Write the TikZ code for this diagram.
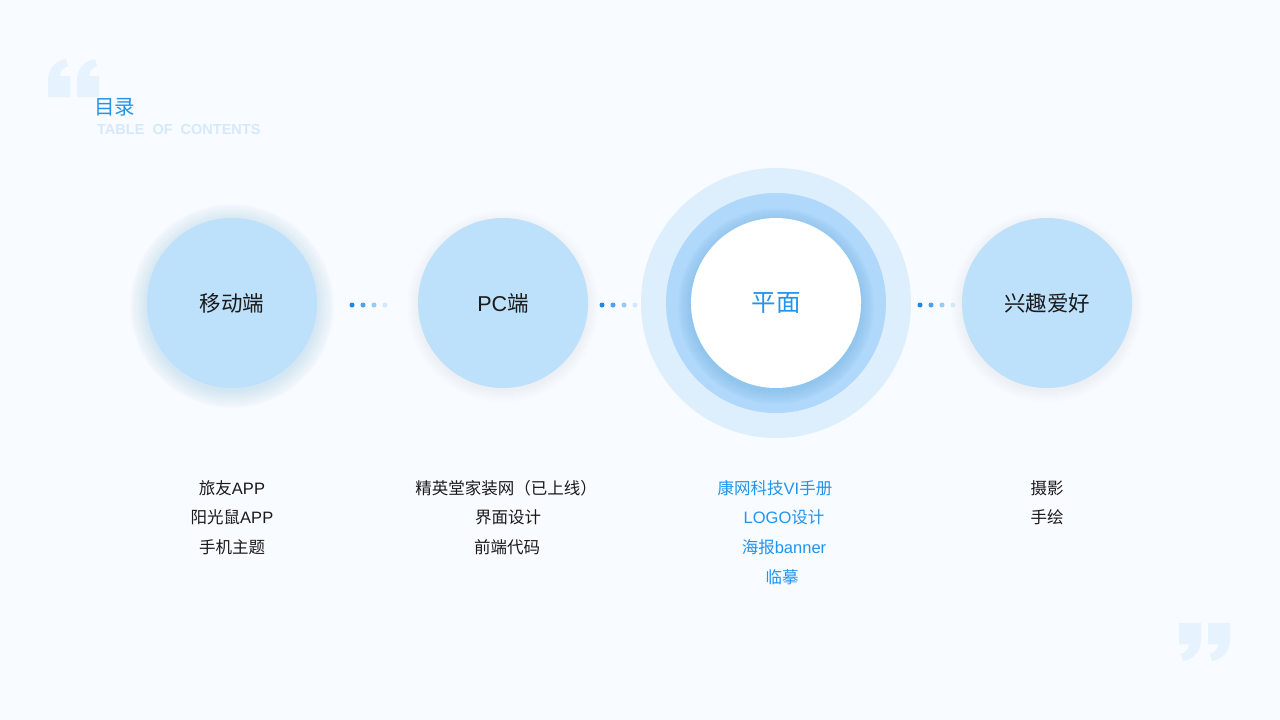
\documentclass[tikz,border=0pt]{standalone}
\usepackage{fontspec}
\setmainfont{Noto Sans CJK SC}
\newfontfamily\headfont{Liberation Sans}
\definecolor{bgc}{HTML}{F8FBFF}
\definecolor{cfill}{HTML}{BDE0FB}
\definecolor{ringout}{HTML}{DDEEFC}
\definecolor{ringmid}{HTML}{AFD8FA}
\definecolor{shadc}{HTML}{6FB2EE}
\definecolor{glowc}{HTML}{8CC2F4}
\definecolor{bluetxt}{HTML}{2294EE}
\definecolor{tocc}{HTML}{D6E9FA}
\definecolor{quotec}{HTML}{E6F2FD}
\definecolor{dotA}{HTML}{1E88E8}
\definecolor{dotB}{HTML}{4BA2EE}
\definecolor{dotC}{HTML}{98C9F5}
\definecolor{dotD}{HTML}{D3E8FB}
\definecolor{txtc}{HTML}{1A1A1A}
\tikzset{
  bigc/.style={circle, fill=cfill, minimum size=170pt, inner sep=0pt, text=txtc, font=\fontsize{21.5}{24}\selectfont},
  whitec/.style={circle, fill=white, minimum size=170pt, inner sep=0pt, text=bluetxt, font=\fontsize{24.5}{27}\selectfont},
  item/.style={inner sep=0pt, text=txtc, font=\fontsize{16.5}{19}\selectfont},
  bitem/.style={item, text=bluetxt},
  dotn/.style={circle, inner sep=0pt, minimum size=5pt},
  quotemark/.style={fill=quotec}
}
\newcommand{\qmk}{(0,38) -- (0,22) .. controls (0,10) and (7,2) .. (18,0) -- (20,7) .. controls (14,9) and (12,13) .. (12,17) -- (22,17) -- (22,38) -- cycle}
\newcommand{\lt}[1]{{\headfont #1}}
\begin{document}
\begin{tikzpicture}[x=1pt,y=-1pt]
\fill[bgc] (0,0) rectangle (1280,720);
\useasboundingbox (0,0) rectangle (1280,720);
% quote marks
\begin{scope}[shift={(48,59)}]
  \fill[quotemark] \qmk;
  \begin{scope}[xshift=29pt]\fill[quotemark] \qmk;\end{scope}
\end{scope}
\begin{scope}[shift={(1230,661)}, rotate=180]
  \fill[quotemark] \qmk;
  \begin{scope}[xshift=29pt]\fill[quotemark] \qmk;\end{scope}
\end{scope}
% title
\node[anchor=west, inner sep=0pt, text=bluetxt, font=\fontsize{20.5}{22}\selectfont] (title) at (94,107) {目录};
\node[anchor=west, inner sep=0pt, text=tocc, font=\headfont\bfseries\fontsize{14.5}{16}\selectfont] (toc) at (97,130) {TABLE\ \ OF\ \ CONTENTS};
% glows
\foreach \cx/\o/\n in {232/0.018/18, 503/0.006/12, 1047/0.006/12}{
  \foreach \i in {1,...,\n}{
    \fill[glowc, opacity=\o] (\cx,306) circle ({84+\i});
  }
}
% center rings
\fill[ringout] (776,303) circle (135);
\fill[ringmid] (776,303) circle (110);
\foreach \i in {1,...,14}{
  \fill[shadc, opacity=0.035] (776,306) circle ({84+\i});
}
% circles
\node[bigc] (c1) at (232,303) {移动端};
\node[bigc] (c2) at (503,303) {\lt{PC}端};
\node[whitec] (c3) at (776,303) {平面};
\node[bigc] (c4) at (1047,303) {兴趣爱好};
% dots
\foreach \n/\x in {a/352, b/602, c/920}{
  \node[dotn, fill=dotA] (\n1) at (\x,305) {};
  \node[dotn, fill=dotB] (\n2) at (\x+11,305) {};
  \node[dotn, fill=dotC] (\n3) at (\x+22,305) {};
  \node[dotn, fill=dotD] (\n4) at (\x+33,305) {};
}
% lists
\node[item] (l11) at (232,488) {旅友\lt{APP}};
\node[item] (l12) at (232,517) {阳光鼠\lt{APP}};
\node[item] (l13) at (232,547) {手机主题};
\node[item] (l21) at (506,488) {精英堂家装网（已上线）};
\node[item] (l22) at (508,517) {界面设计};
\node[item] (l23) at (507,547) {前端代码};
\node[bitem] (l31) at (775,488) {康网科技\lt{VI}手册};
\node[bitem] (l32) at (784,517) {\lt{LOGO}设计};
\node[bitem] (l33) at (784,547) {海报\lt{banner}};
\node[bitem] (l34) at (782,577) {临摹};
\node[item] (l41) at (1047,488) {摄影};
\node[item] (l42) at (1047,517) {手绘};
\end{tikzpicture}
\end{document}
